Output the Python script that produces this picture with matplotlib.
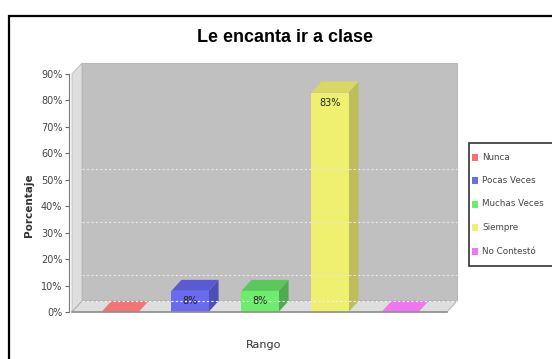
import matplotlib
matplotlib.use('Agg')
import matplotlib.pyplot as plt
from matplotlib.patches import Polygon, Rectangle

# datos de la encuesta
categorias = ['Nunca', 'Pocas Veces', 'Muchas Veces', 'Siempre', 'No Contestó']
valores = [0, 8, 8, 83, 0]
etiquetas = ['', '8%', '8%', '83%', '']
ticks_y = [0, 10, 20, 30, 40, 50, 60, 70, 80, 90]
lineas_fondo = [10, 30, 50]

# colores: cara frontal, cara superior, cara lateral
frente = ['#f27474', '#6a6af0', '#6cee6c', '#f0f070', '#f075f0']
arriba = ['#f27474', '#5a5ad2', '#5cc85c', '#d8d862', '#f075f0']
lado = ['#d86868', '#4e4eb8', '#50aa50', '#bdbd5e', '#d868d8']

W, H = 552, 359
fig = plt.figure(figsize=(W / 100, H / 100), dpi=100)
fig.patch.set_facecolor('white')

def fx(px):
    return px / W

def fy(py):
    return 1 - py / H

# marco exterior
fig.add_artist(Rectangle((fx(9), fy(380)), fx(600), fy(16) - fy(380), transform=fig.transFigure,
                         fill=False, edgecolor='black', linewidth=1.6, clip_on=False))

ax = fig.add_axes([fx(72), fy(312), fx(447) - fx(72), fy(74) - fy(312)])
x0, x1 = -0.686, 4.671
ax.set_xlim(x0, x1)
ax.set_ylim(0, 90)
for s in ['top', 'right', 'bottom']:
    ax.spines[s].set_visible(False)
ax.spines['left'].set_color('#777777')
ax.spines['left'].set_position(('outward', 2))
ax.patch.set_visible(False)

# profundidad del efecto 3D en unidades de datos
px_x = (fx(447) - fx(72)) * W / (x1 - x0)
px_y = (fy(74) - fy(312)) * H / 90
dx = 10 / px_x
dy = 11 / px_y

pared = '#c0c0c0'
piso = '#dedede'

# pared del fondo
ax.add_patch(Polygon([(x0 + dx, dy), (x1 + dx, dy), (x1 + dx, 90 + dy), (x0 + dx, 90 + dy)],
                     closed=True, facecolor=pared, edgecolor='#b0b0b0', lw=0.6, clip_on=False))
# pared izquierda
ax.add_patch(Polygon([(x0, 0), (x0 + dx, dy), (x0 + dx, 90 + dy), (x0, 90)],
                     closed=True, facecolor=piso, edgecolor='#b8b8b8', lw=0.6, clip_on=False))
# piso
ax.add_patch(Polygon([(x0, 0), (x1, 0), (x1 + dx, dy), (x0 + dx, dy)],
                     closed=True, facecolor=piso, edgecolor='#a8a8a8', lw=0.6, clip_on=False))
ax.plot([x0, x1], [0, 0], color='#909090', lw=1.2, clip_on=False)

for g in lineas_fondo:
    ax.plot([x0 + dx, x1 + dx], [g + dy, g + dy], color='#e8e8e8', lw=0.8,
            linestyle=(0, (2, 2)), clip_on=False)
ax.plot([x0 + dx, x1 + dx], [dy, dy], color='#f4f4f4', lw=0.8, linestyle=(0, (2, 2)), clip_on=False)

ancho = 0.53
for i, v in enumerate(valores):
    a, b = i - ancho / 2, i + ancho / 2
    if v > 0:
        ax.add_patch(Polygon([(b, 0), (b + dx, dy), (b + dx, v + dy), (b, v)],
                             closed=True, facecolor=lado[i], edgecolor='none', clip_on=False))
        ax.add_patch(Rectangle((a, 0), ancho, v, facecolor=frente[i], edgecolor='none'))
    ax.add_patch(Polygon([(a, v), (b, v), (b + dx, v + dy), (a + dx, v + dy)],
                         closed=True, facecolor=arriba[i], edgecolor='none', clip_on=False))
    if etiquetas[i]:
        ax.annotate(etiquetas[i], (i, v), xytext=(0, -4), textcoords='offset points',
                    ha='center', va='top', fontsize=7, color='#222222')

ax.set_yticks(ticks_y)
ax.set_yticklabels(['%d%%' % t for t in ticks_y])
ax.set_xticks([])
ax.tick_params(axis='y', length=3, width=0.8, color='#666666', pad=2,
               labelsize=7, labelcolor='#444444')

fig.text(fx(285), fy(37), 'Le encanta ir a clase', ha='center', va='center',
         fontsize=13, fontweight='bold', family=['Liberation Sans', 'DejaVu Sans'])
fig.text(fx(29), fy(205), 'Porcentaje', ha='center', va='center', rotation=90,
         fontsize=7.5, fontweight='bold', color='#333333')
fig.text(fx(264), fy(345), 'Rango', ha='center', va='center', fontsize=8, color='#333333')

# leyenda
fig.add_artist(Rectangle((fx(469), fy(266)), fx(120), fy(143) - fy(266), transform=fig.transFigure,
                         facecolor='white', edgecolor='#333333', linewidth=1.2, clip_on=False))
for i, nombre in enumerate(categorias):
    yy = 157 + 23.5 * i
    fig.add_artist(Rectangle((fx(472), fy(yy + 3.5)), fx(6), fy(yy - 3.5) - fy(yy + 3.5),
                             transform=fig.transFigure, facecolor=frente[i], edgecolor='none'))
    fig.text(fx(482), fy(yy), nombre, ha='left', va='center', fontsize=6.3, color='#444444')

fig.savefig('out.png', dpi=100)
